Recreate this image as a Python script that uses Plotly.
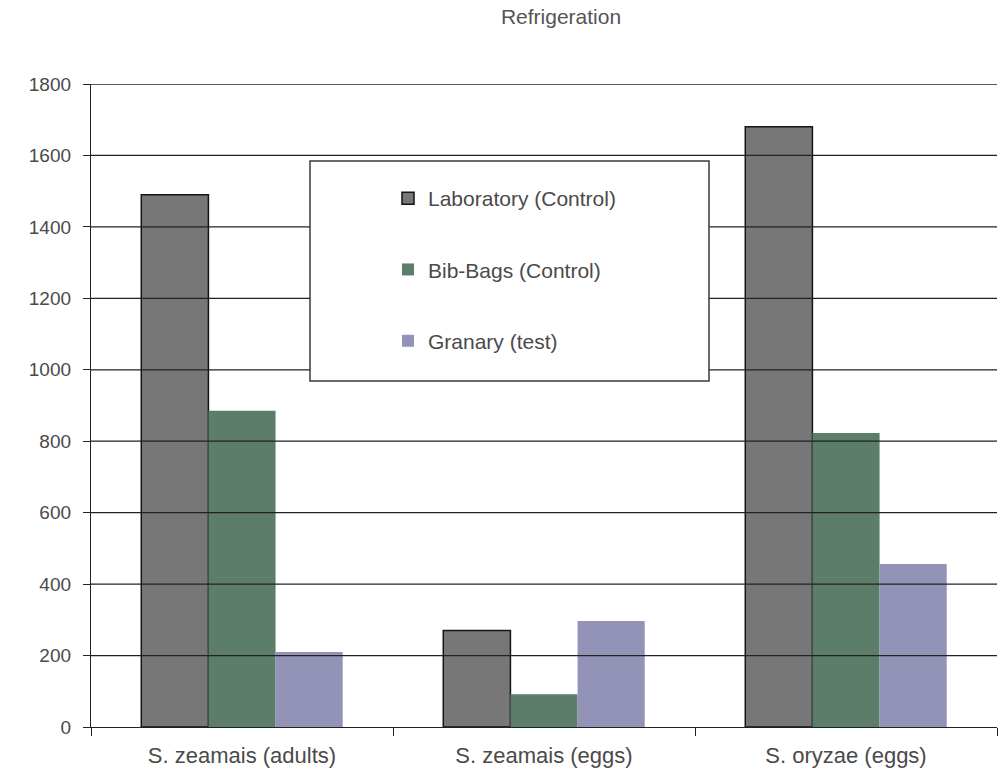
import plotly.graph_objects as go

categories = ["S. zeamais (adults)", "S. zeamais (eggs)", "S. oryzae (eggs)"]
laboratory = [1490, 270, 1680]
bib_bags = [885, 92, 823]
granary = [210, 297, 456]
y_ticks = [0, 200, 400, 600, 800, 1000, 1200, 1400, 1600, 1800]

FONT = "Liberation Sans, Arial, sans-serif"
TEXT = "#4a4a4a"

# plot area in pixels (used to express decorations in paper fractions)
L, R, T, B = 91, 997, 84, 727
PW, PH = R - L, B - T


def px_x(x):
    return (x - L) / PW


def px_y(y):
    return (B - y) / PH


fig = go.Figure()
fig.add_trace(go.Bar(
    x=categories, y=laboratory, name="Laboratory (Control)",
    marker=dict(color="#777777", line=dict(color="#151515", width=1.5)),
    legendgroup="a",
))
fig.add_trace(go.Bar(
    x=categories, y=bib_bags, name="Bib-Bags (Control)",
    marker=dict(color="#5c7d6a", line=dict(width=0)),
    legendgroup="b",
))
fig.add_trace(go.Bar(
    x=categories, y=granary, name="Granary (test)",
    marker=dict(color="#9393b8", line=dict(width=0)),
    legendgroup="c",
))

# horizontal gridlines drawn over the bars
shapes = []
for v in y_ticks[1:]:
    shapes.append(dict(
        type="line", xref="x domain", yref="y", x0=0, x1=1, y0=v, y1=v,
        line=dict(color="#222222", width=1.3), layer="above",
    ))
# framed white panel behind the legend
shapes.append(dict(
    type="rect", xref="paper", yref="paper",
    x0=px_x(310), x1=px_x(709), y0=px_y(381), y1=px_y(161),
    fillcolor="white", line=dict(color="#3a3a3a", width=1.5), layer="above",
))

fig.update_layout(
    width=1007, height=770,
    margin=dict(l=L, r=1007 - R, t=T, b=770 - B),
    paper_bgcolor="white", plot_bgcolor="white",
    barmode="group", bargap=0.333, bargroupgap=0,
    font=dict(family=FONT, size=19, color=TEXT),
    title=dict(text="Refrigeration", x=561 / 1007, xanchor="center",
               y=1 - 17 / 770, yanchor="middle",
               font=dict(family=FONT, size=21, color="#555555")),
    showlegend=True,
    legend=dict(
        x=px_x(388), xanchor="left", y=px_y(178), yanchor="top",
        bgcolor="rgba(0,0,0,0)", borderwidth=0,
        tracegroupgap=41, traceorder="grouped",
        font=dict(family=FONT, size=21, color=TEXT),
    ),
    shapes=shapes,
    xaxis=dict(
        type="category", showgrid=False, showline=True, linecolor="#222222",
        linewidth=1.3, ticks="outside", tickson="boundaries", ticklen=8,
        tickcolor="#222222", tickwidth=1.3, ticklabelstandoff=8,
        tickfont=dict(family=FONT, size=22, color=TEXT), automargin=False,
    ),
    yaxis=dict(
        range=[0, 1800], tickvals=y_ticks, showgrid=False, zeroline=False,
        showline=True, linecolor="#222222", linewidth=1.3,
        ticks="outside", ticklen=7, tickcolor="#222222", tickwidth=1.3,
        ticklabelstandoff=8, automargin=False,
        tickfont=dict(family=FONT, size=19, color=TEXT),
    ),
)

fig.write_html("out.html")
